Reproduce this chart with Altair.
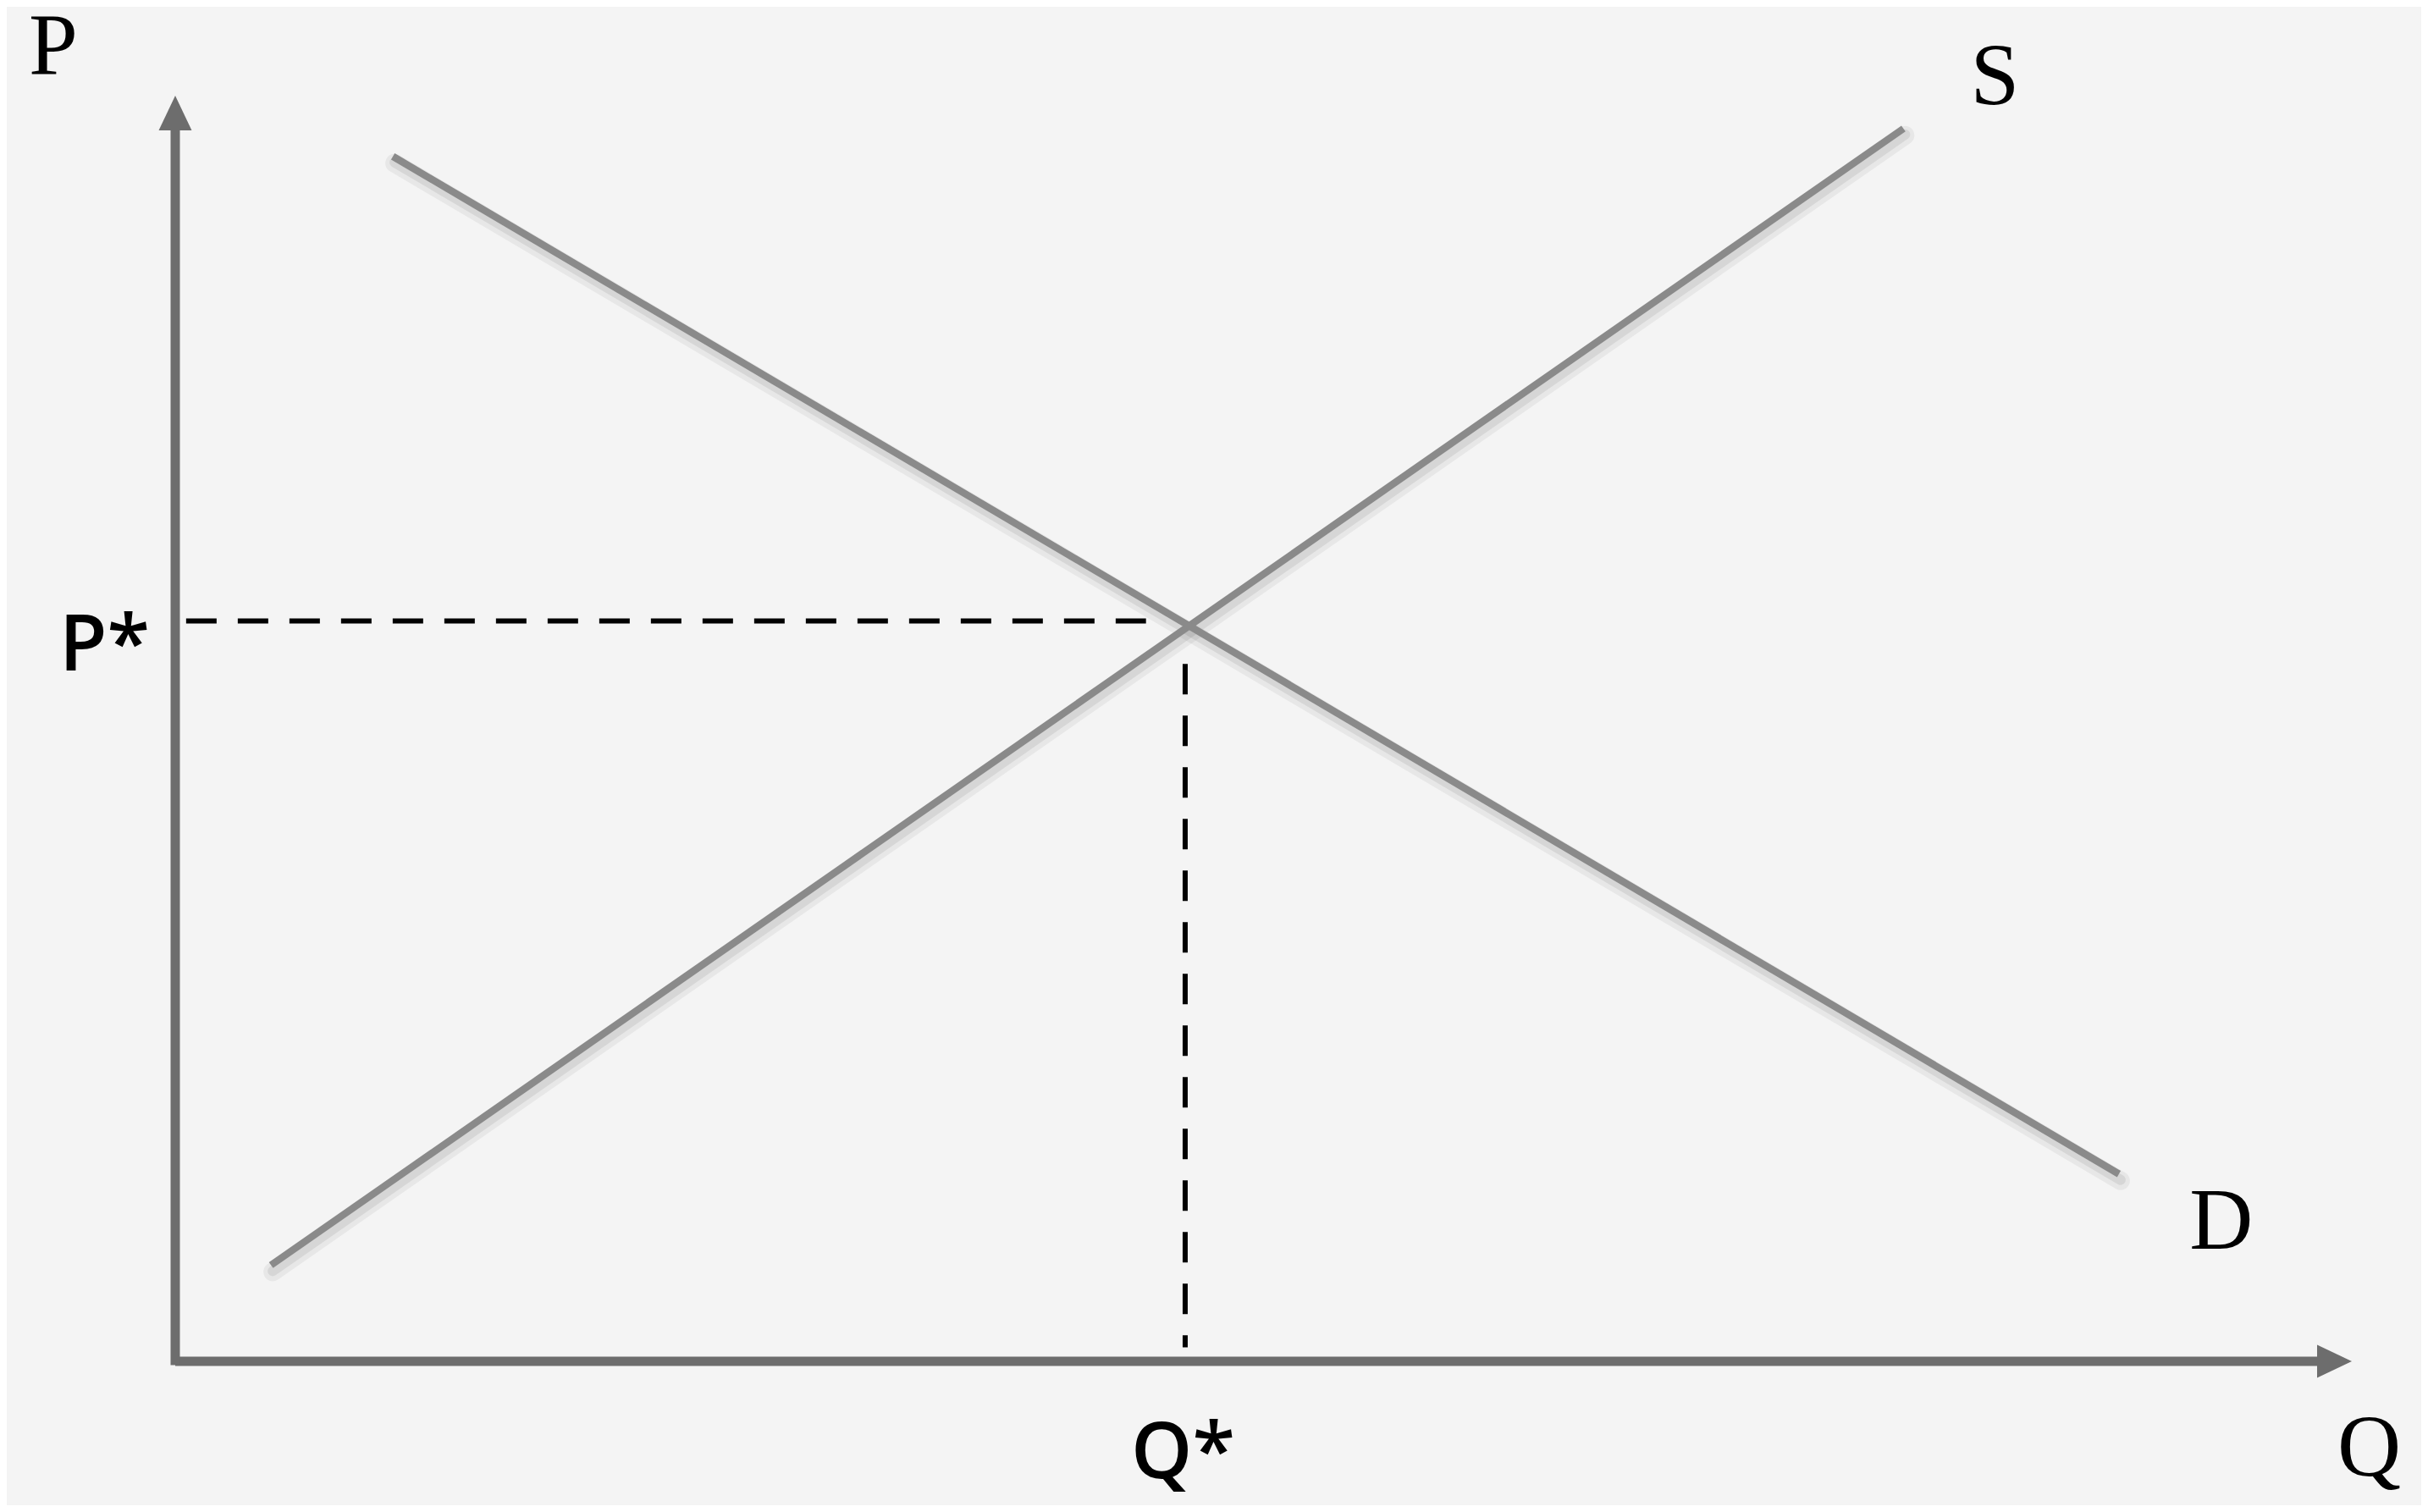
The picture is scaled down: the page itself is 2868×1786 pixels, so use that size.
import altair as alt
import pandas as pd

# ---- data (economic units: quantity Q on x, price P on y) ----
supply_q = [0.44, 7.94]
supply_p = [0.76, 9.74]
demand_q = [1.00, 8.93]
demand_p = [9.52, 1.48]

pstar_q = [0.05, 4.46]
pstar_p = [5.85, 5.85]
qstar_q = [4.64, 4.64]
qstar_p = [5.51, 0.11]

xaxis_q = [0.0, 9.9]
xaxis_p = [0.0, 0.0]
yaxis_q = [0.0, 0.0]
yaxis_p = [-0.03, 9.9]

arrow_right_q = [10.0]
arrow_right_p = [0.0]
arrow_up_q = [0.0]
arrow_up_p = [10.0]

serif_labels = ["P", "S", "D", "Q"]
serif_q = [-0.56, 8.36, 9.40, 10.08]
serif_p = [10.17, 9.93, 0.89, -0.90]

pstar_label = ["P*"]
pstar_lq = [-0.117]
pstar_lp = [5.46]
qstar_label = ["Q*"]
qstar_lq = [4.63]
qstar_lp = [-0.92]

# ---- tables ----
curves = pd.DataFrame({
    "q": supply_q + demand_q,
    "p": supply_p + demand_p,
    "series": ["S", "S", "D", "D"],
    "order": [0, 1, 0, 1],
})
hdash = pd.DataFrame({"q": pstar_q, "p": pstar_p, "order": [0, 1]})
vdash = pd.DataFrame({"q": qstar_q, "p": qstar_p, "order": [0, 1]})
axes = pd.DataFrame({
    "q": xaxis_q + yaxis_q,
    "p": xaxis_p + yaxis_p,
    "series": ["x", "x", "y", "y"],
    "order": [0, 1, 0, 1],
})
arr_r = pd.DataFrame({"q": arrow_right_q, "p": arrow_right_p})
arr_u = pd.DataFrame({"q": arrow_up_q, "p": arrow_up_p})
serif_df = pd.DataFrame({"q": serif_q, "p": serif_p, "t": serif_labels})
pstar_df = pd.DataFrame({"q": pstar_lq, "p": pstar_lp, "t": pstar_label})
qstar_df = pd.DataFrame({"q": qstar_lq, "p": qstar_lp, "t": qstar_label})

xs = alt.X("q:Q", scale=alt.Scale(domain=[0, 10], nice=False, zero=False), axis=None)
ys = alt.Y("p:Q", scale=alt.Scale(domain=[0, 10], nice=False, zero=False), axis=None)

AXIS_COLOR = "#6d6d6d"
CURVE_COLOR = "#8a8a8a"

shadow_wide = alt.Chart(curves).mark_line(
    color="#000000", opacity=0.05, strokeWidth=22, yOffset=8, xOffset=2, strokeCap="round"
).encode(x=xs, y=ys, detail="series:N", order="order:Q")

shadow = alt.Chart(curves).mark_line(
    color="#000000", opacity=0.07, strokeWidth=12, yOffset=7, xOffset=2, strokeCap="round"
).encode(x=xs, y=ys, detail="series:N", order="order:Q")

curve_layer = alt.Chart(curves).mark_line(
    color=CURVE_COLOR, strokeWidth=8.5, strokeCap="butt"
).encode(x=xs, y=ys, detail="series:N", order="order:Q")

hdash_layer = alt.Chart(hdash).mark_line(
    color="#000000", strokeWidth=6, strokeDash=[36, 25]
).encode(x=xs, y=ys, order="order:Q")

vdash_layer = alt.Chart(vdash).mark_line(
    color="#000000", strokeWidth=6, strokeDash=[36, 25]
).encode(x=xs, y=ys, order="order:Q")

axis_layer = alt.Chart(axes).mark_line(
    color=AXIS_COLOR, strokeWidth=11, strokeCap="butt"
).encode(x=xs, y=ys, detail="series:N", order="order:Q")

arrow_r_layer = alt.Chart(arr_r).mark_point(
    shape="M0,0 L-2,-0.95 L-2,0.95 Z", size=1681, filled=True,
    color=AXIS_COLOR, opacity=1, strokeWidth=0
).encode(x=xs, y=ys)

arrow_u_layer = alt.Chart(arr_u).mark_point(
    shape="M0,0 L-0.95,2 L0.95,2 Z", size=1681, filled=True,
    color=AXIS_COLOR, opacity=1, strokeWidth=0
).encode(x=xs, y=ys)

serif_layer = alt.Chart(serif_df).mark_text(
    font="Liberation Serif", fontSize=104, color="#000000",
    align="center", baseline="alphabetic"
).encode(x=xs, y=ys, text="t:N")

pstar_layer = alt.Chart(pstar_df).mark_text(
    font="Open Sans", fontSize=92, fontWeight=600, color="#000000",
    align="right", baseline="alphabetic"
).encode(x=xs, y=ys, text="t:N")

qstar_layer = alt.Chart(qstar_df).mark_text(
    font="Open Sans", fontSize=92, fontWeight=600, color="#000000",
    align="center", baseline="alphabetic"
).encode(x=xs, y=ys, text="t:N")

chart = alt.layer(
    shadow_wide, shadow, curve_layer, hdash_layer, vdash_layer, axis_layer,
    arrow_r_layer, arrow_u_layer, serif_layer, pstar_layer, qstar_layer
).properties(
    width=2571,
    height=1495,
    autosize=alt.AutoSizeParams(type="none"),
    padding={"left": 199, "top": 105, "right": 82, "bottom": 170},
    background="#f4f4f4",
).configure_view(stroke=None)

chart.save("out.html", embed_options={"renderer": "svg", "actions": False})
